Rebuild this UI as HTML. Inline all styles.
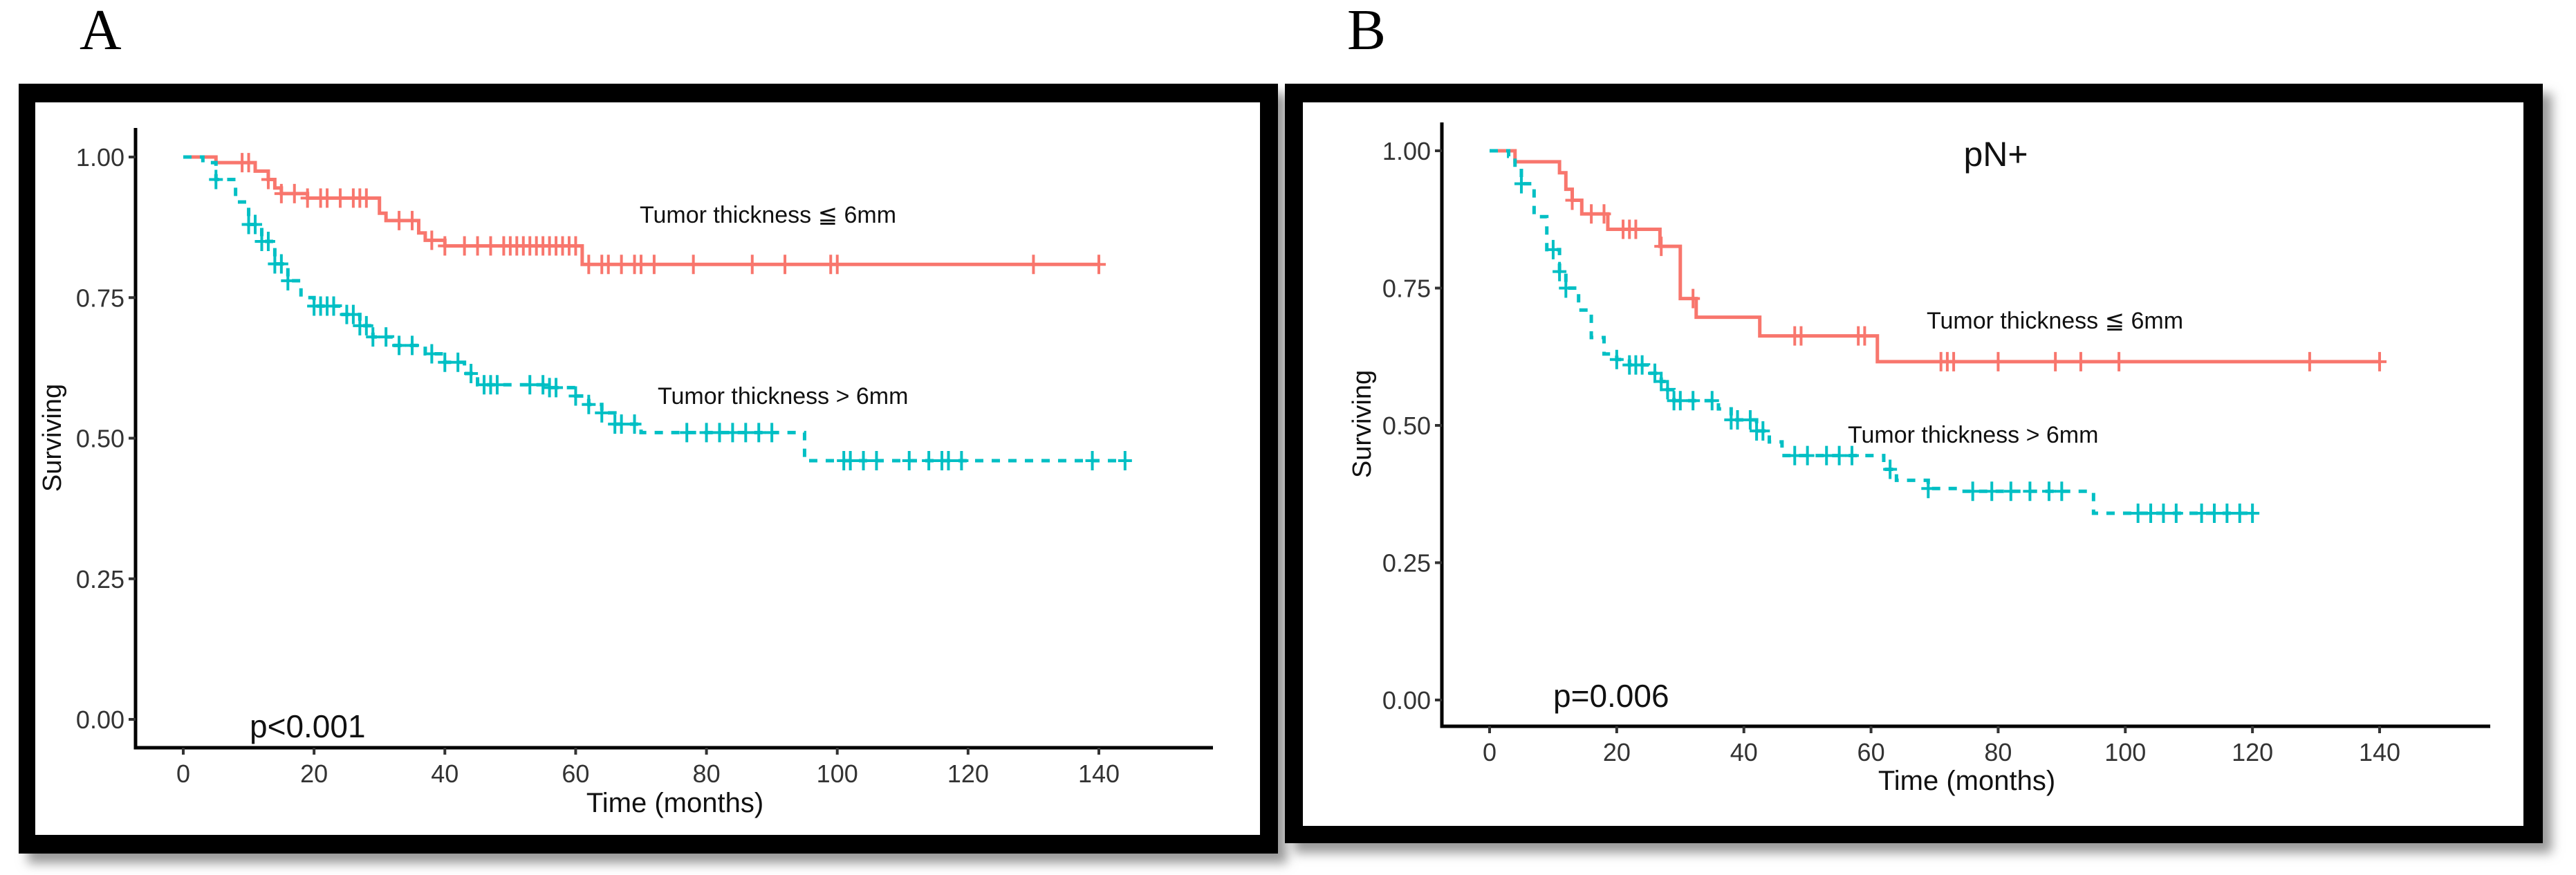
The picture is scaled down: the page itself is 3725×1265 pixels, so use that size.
<!DOCTYPE html>
<html><head><meta charset="utf-8"><style>
html,body{margin:0;padding:0;background:#fff;}
svg{display:block;}
text{font-family:"Liberation Sans",Arial,sans-serif;}
</style></head><body>
<svg id="fig" width="3725" height="1265" viewBox="0 0 3725 1265" xmlns="http://www.w3.org/2000/svg">
<defs>
<filter id="sh" x="-5%" y="-5%" width="112%" height="112%"><feGaussianBlur stdDeviation="8"/></filter>
</defs>
<g>
<rect x="40" y="135" width="1821" height="1113" fill="#999" filter="url(#sh)"/>
<rect x="27" y="121" width="1821" height="1113" fill="#000"/>
<rect x="51" y="148" width="1771" height="1059" fill="#fff"/>
</g>
<g>
<rect x="1871" y="135" width="1819" height="1098" fill="#999" filter="url(#sh)"/>
<rect x="1858" y="121" width="1819" height="1098" fill="#000"/>
<rect x="1884" y="148" width="1765" height="1046" fill="#fff"/>
</g>
<text x="115" y="71" font-size="84" style="font-family:'Liberation Serif',serif">A</text>
<text x="1948" y="71" font-size="84" style="font-family:'Liberation Serif',serif">B</text>
<g id="pa"></g>
<g id="pb"></g>
</svg>
<script>
// ---- data ----
const xTicks = [0,20,40,60,80,100,120,140];
const yTicks = [0,0.25,0.5,0.75,1.0];
const yTickLabels = ["0.00","0.25","0.50","0.75","1.00"];
// Panel A
const aRedTimes = [0,5,11,13,14,15,19,30,31,36,37,40,61];
const aRedSurv  = [1,0.99,0.975,0.96,0.945,0.935,0.927,0.9,0.887,0.865,0.852,0.842,0.809];
const aRedEnd = 140;
const aRedCens = [9,10,13,15,17,19,21,22,24,26,27,28,33,35,38,40,43,45,47,49,50,51,52,53,54,55,56,57,58,59,60,62,64,65,67,69,70,72,78,87,92,99,100,130,140];
const aTealTimes = [0,3,5,8,10,12,14,16,18,20,24,27,29,32,37,40,43,45,56,60,62,64,66,70,95];
const aTealSurv  = [1,0.99,0.96,0.92,0.88,0.85,0.81,0.78,0.75,0.735,0.72,0.70,0.68,0.665,0.65,0.635,0.615,0.595,0.59,0.575,0.56,0.545,0.525,0.51,0.46];
const aTealEnd = 144;
const aTealCens = [5,10,11,12,13,14,15,16,20,21,22,23,25,26,27,28,29,31,33,35,38,40,42,44,46,47,48,53,55,56,57,60,62,64,66,67,69,77,80,82,84,86,88,90,101,102,104,106,111,114,116,117,119,139,144];
// Panel B
const bRedTimes = [0,4,11,12,13,14.5,18.6,26.8,30,32.5,42.5,61];
const bRedSurv  = [1,0.98,0.96,0.93,0.91,0.885,0.857,0.826,0.731,0.697,0.663,0.616];
const bRedEnd = 140;
const bRedCens = [13,16,18,21,22,23,27,32,48,49,58,59,71,72,73,80,89,93,99,129,140];
const bTealTimes = [0,3,4,5,7,9,11,12,14,16,18,20,22,25,27,28,29,36,38,42,44,46,62,64,69,74,95];
const bTealSurv  = [1,0.99,0.97,0.94,0.88,0.82,0.78,0.75,0.71,0.66,0.63,0.62,0.61,0.595,0.58,0.565,0.545,0.53,0.51,0.49,0.47,0.445,0.42,0.40,0.385,0.38,0.34];
const bTealEnd = 120;
const bTealCens = [5,10,11,12,20,22,23,24,26,27,28,29,30,32,35,38,39,41,42,43,48,50,53,55,57,63,69,76,79,82,85,88,90,102,104,106,108,112,114,116,118,120];

const NS="http://www.w3.org/2000/svg";
function mk(p,tag,attrs){const e=document.createElementNS(NS,tag);for(const k in attrs)e.setAttribute(k,attrs[k]);p.appendChild(e);return e;}

function panel(g,cfg){
  const X=t=>cfg.x0+(cfg.x140-cfg.x0)*t/140;
  const Y=s=>cfg.y0+(cfg.y1-cfg.y0)*s;
  const ax=mk(g,'path',{d:`M${cfg.axL} ${cfg.axTop} V${cfg.axB} H${cfg.axR}`,stroke:'#000','stroke-width':5,fill:'none'});
  
  
  yTicks.forEach((v,i)=>{
    const l=mk(g,'line',{x1:cfg.axL-10,x2:cfg.axL,y1:Y(v),y2:Y(v),stroke:'#333','stroke-width':4});
    
    
    const t=mk(g,'text',{x:cfg.axL-16,y:Y(v)+13,'font-size':36,'text-anchor':'end',fill:'#333'});
    t.textContent=yTickLabels[i];
    
    
  });
  xTicks.forEach(v=>{
    const l=mk(g,'line',{x1:X(v),x2:X(v),y1:cfg.axB,y2:cfg.axB+10,stroke:'#333','stroke-width':4});
    
    
    const t=mk(g,'text',{x:X(v),y:cfg.axB+50,'font-size':36,'text-anchor':'middle',fill:'#333'});
    t.textContent=String(v);
    
    
  });
  const series=(times,surv,end,cens,color,dash,name)=>{
    let d=`M${X(times[0])} ${Y(surv[0])}`;
    for(let i=1;i<times.length;i++){d+=` H${X(times[i])} V${Y(surv[i])}`;}
    d+=` H${X(end)}`;
    const p=mk(g,'path',{d,stroke:color,'stroke-width':5,fill:'none','stroke-dasharray':dash||'none'});
    
    
    cens.forEach(c=>{
      let s=surv[0];for(let i=0;i<times.length;i++){if(times[i]<=c)s=surv[i];}
      const m=mk(g,'path',{d:`M${X(c)-10} ${Y(s)} h20 M${X(c)} ${Y(s)-14} v28`,stroke:color,'stroke-width':4,fill:'none'});
      
      
    });
  };
  series(cfg.rt,cfg.rs,cfg.re,cfg.rc,'#F8766D',null,'thin-group');
  series(cfg.tt,cfg.ts,cfg.te,cfg.tc,'#00BFC4','12 12','thick-group');
  const lab=(x,y,txt,fs,name,anchor,rot)=>{
    const t=mk(g,'text',{x,y,'font-size':fs,fill:'#111','text-anchor':anchor||'start'});
    if(rot)t.setAttribute('transform',`rotate(-90 ${x} ${y})`);
    t.textContent=txt;
    
    
  };
  lab(cfg.l1[0],cfg.l1[1],'Tumor thickness ≦ 6mm',34,'legend-thin');
  lab(cfg.l2[0],cfg.l2[1],'Tumor thickness > 6mm',34,'legend-thick');
  lab(cfg.p[0],cfg.p[1],cfg.ptxt,46,'p-value');
  lab(cfg.yt[0],cfg.yt[1],'Surviving',38,'y-axis-title','middle',true);
  lab(cfg.xt[0],cfg.xt[1],'Time (months)',40,'x-axis-title','middle');
}
panel(document.getElementById('pa'),{x0:265,x140:1589,y0:1040,y1:227,axL:196,axTop:185,axB:1081,axR:1754,
  rt:aRedTimes,rs:aRedSurv,re:aRedEnd,rc:aRedCens,tt:aTealTimes,ts:aTealSurv,te:aTealEnd,tc:aTealCens,
  l1:[925,322],l2:[951,584],p:[361,1066],ptxt:'p<0.001',yt:[88,633],xt:[976,1174]});
panel(document.getElementById('pb'),{x0:2154,x140:3441,y0:1012,y1:218,axL:2085,axTop:177,axB:1050,axR:3601,
  rt:bRedTimes,rs:bRedSurv,re:bRedEnd,rc:bRedCens,tt:bTealTimes,ts:bTealSurv,te:bTealEnd,tc:bTealCens,
  l1:[2786,475],l2:[2672,640],p:[2246,1022],ptxt:'p=0.006',yt:[1982,613],xt:[2844,1142]});
const pn=document.createElementNS(NS,'text');
pn.setAttribute('x',2886);pn.setAttribute('y',240);pn.setAttribute('font-size',50);pn.setAttribute('text-anchor','middle');pn.setAttribute('fill','#111');
pn.textContent='pN+';


document.getElementById('pb').appendChild(pn);
</script>
</body></html>
